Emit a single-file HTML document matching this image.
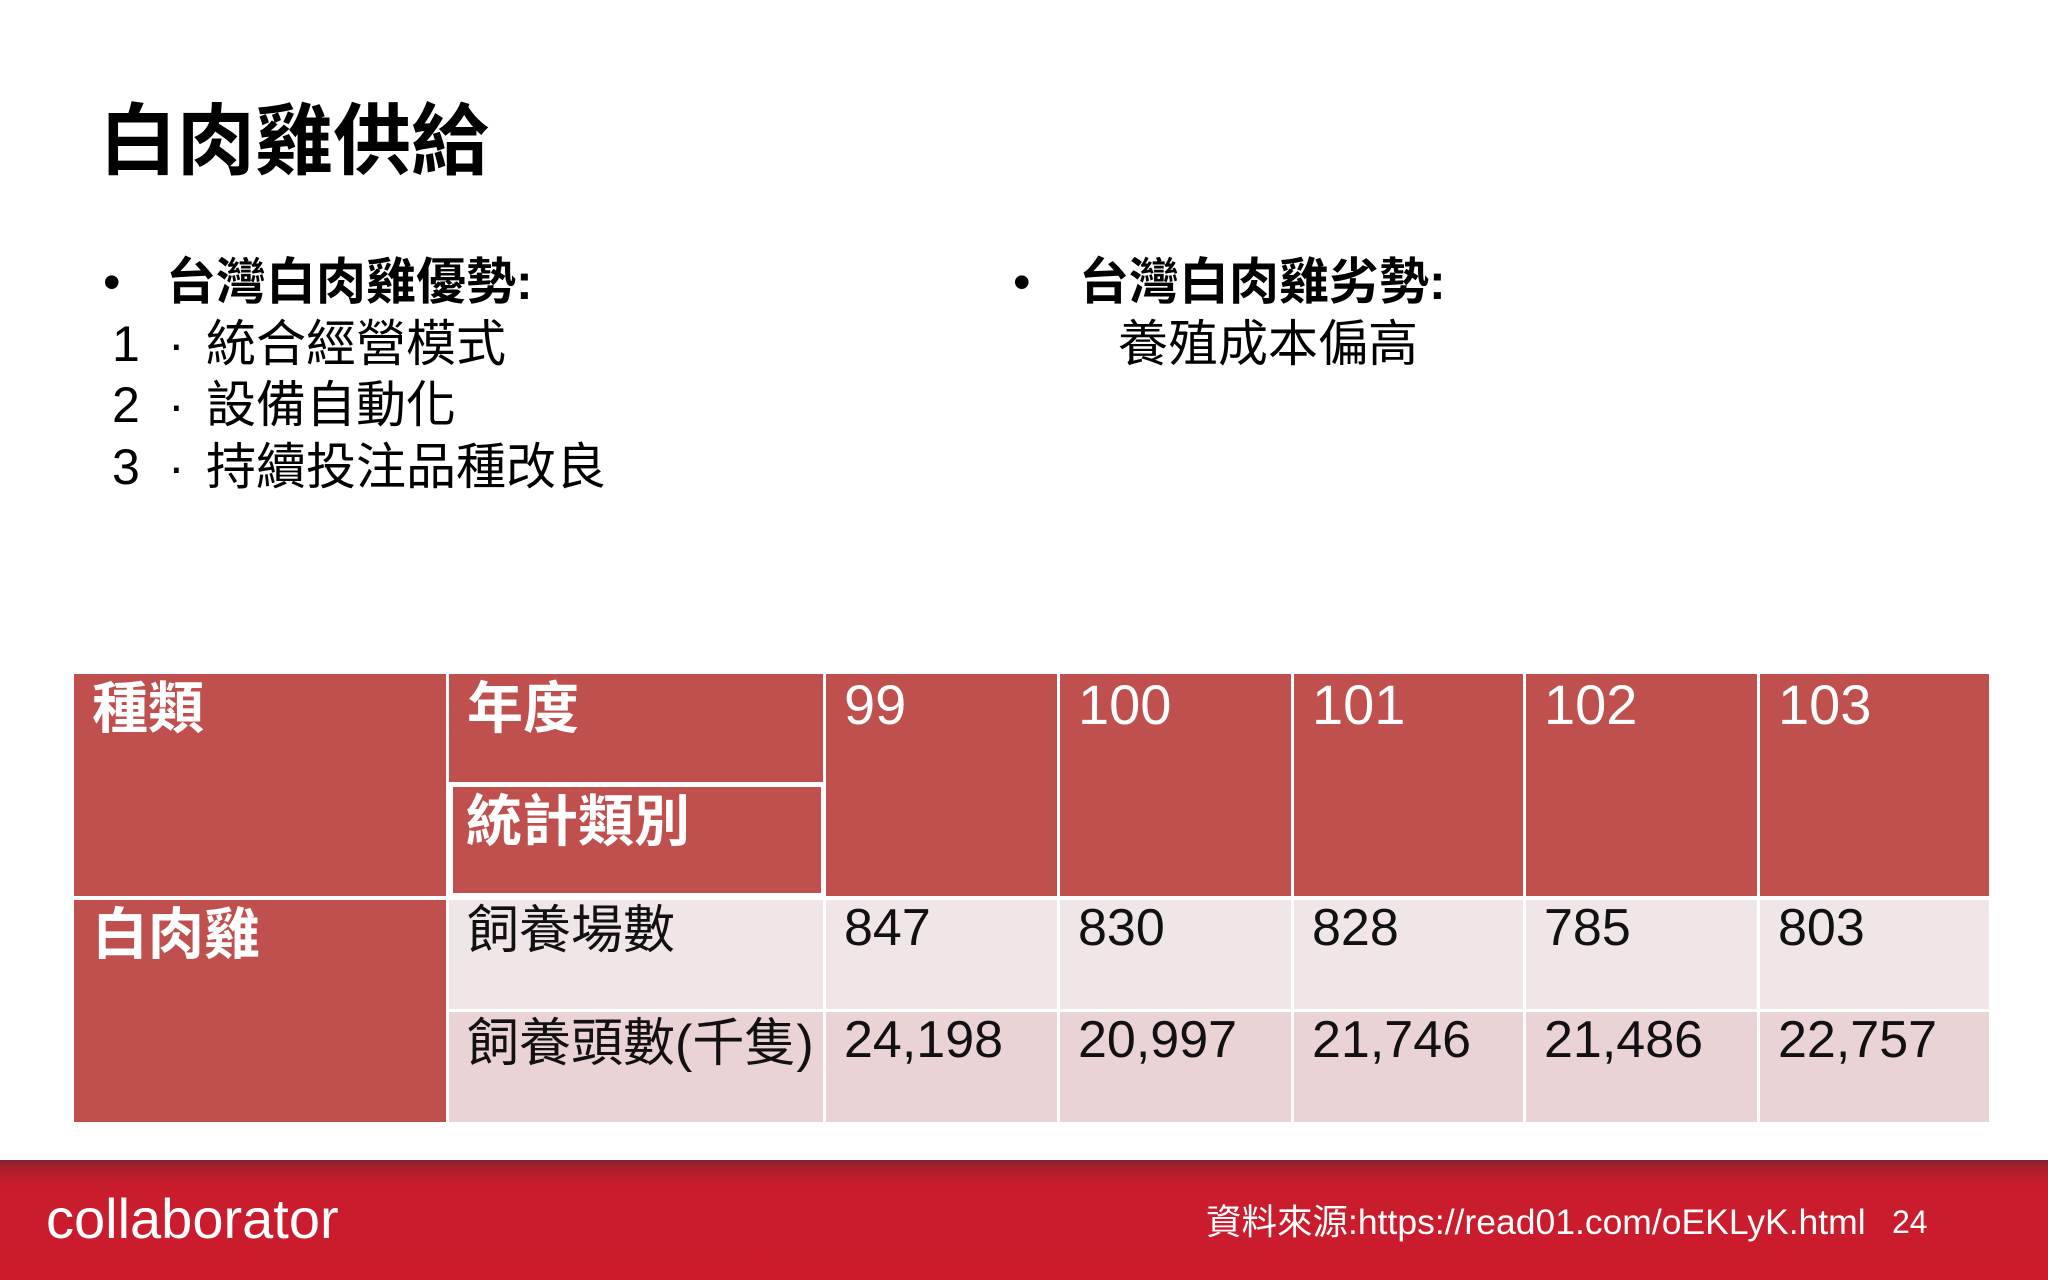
<!DOCTYPE html>
<html><head><meta charset="utf-8">
<style>
body{margin:0;width:2048px;height:1280px;background:#fff;position:relative;overflow:hidden;font-family:"Liberation Sans","Noto Sans CJK TC",sans-serif;}
.a{position:absolute;white-space:nowrap;}
.cell{position:absolute;box-sizing:border-box;}
.h{background:#C0504D;color:#fff;font-size:56px;}
.r1{background:#F0E6E7;color:#111;font-size:52px;}
.r2{background:#E9D3D5;color:#111;font-size:52px;}
.cell span{position:absolute;left:18px;}
</style></head><body>
<div class="a" style="left:99px;top:96px;font-size:78px;font-weight:bold;line-height:90px;">白肉雞供給</div>

<div class="a" style="left:0;top:0;font-size:50px;line-height:61px;">
<div class="a" style="left:103px;top:252px;">•</div>
<div class="a" style="left:166px;top:252px;font-weight:bold;">台灣白肉雞優勢:</div>
<div class="a" style="left:112px;top:314px;">1</div><div class="a" style="left:168px;top:314px;">·</div><div class="a" style="left:206px;top:314px;">統合經營模式</div>
<div class="a" style="left:112px;top:375px;">2</div><div class="a" style="left:168px;top:375px;">·</div><div class="a" style="left:206px;top:375px;">設備自動化</div>
<div class="a" style="left:112px;top:437px;">3</div><div class="a" style="left:168px;top:437px;">·</div><div class="a" style="left:206px;top:437px;">持續投注品種改良</div>
</div>
<div class="a" style="left:0;top:0;font-size:50px;line-height:61px;">
<div class="a" style="left:1013px;top:252px;">•</div>
<div class="a" style="left:1079px;top:252px;font-weight:bold;">台灣白肉雞劣勢:</div>
<div class="a" style="left:1118px;top:314px;">養殖成本偏高</div>
</div>

<div>
<div class="cell h" style="left:74px;top:674px;width:372px;height:222px;"><span style="top:-10px;font-weight:bold;">種類</span></div>
<div class="cell h" style="left:449px;top:674px;width:374px;height:222px;"><span style="top:-10px;font-weight:bold;">年度</span></div>
<div class="cell" style="left:448px;top:782px;width:378px;height:116px;border:5px solid #fff;background:#C0504D;color:#fff;font-size:56px;font-weight:bold;"><span style="left:13px;top:-10px;">統計類別</span></div>
<div class="cell h" style="left:826px;top:674px;width:231px;height:222px;"><span style="top:-2px;">99</span></div>
<div class="cell h" style="left:1060px;top:674px;width:231px;height:222px;"><span style="top:-2px;">100</span></div>
<div class="cell h" style="left:1294px;top:674px;width:229px;height:222px;"><span style="top:-2px;">101</span></div>
<div class="cell h" style="left:1526px;top:674px;width:231px;height:222px;"><span style="top:-2px;">102</span></div>
<div class="cell h" style="left:1760px;top:674px;width:229px;height:222px;"><span style="top:-2px;">103</span></div>

<div class="cell h" style="left:74px;top:900px;width:372px;height:222px;"><span style="top:-10px;font-weight:bold;">白肉雞</span></div>
<div class="cell r1" style="left:449px;top:900px;width:374px;height:109px;"><span style="top:-12px;">飼養場數</span></div>
<div class="cell r1" style="left:826px;top:900px;width:231px;height:109px;"><span style="top:-2px;">847</span></div>
<div class="cell r1" style="left:1060px;top:900px;width:231px;height:109px;"><span style="top:-2px;">830</span></div>
<div class="cell r1" style="left:1294px;top:900px;width:229px;height:109px;"><span style="top:-2px;">828</span></div>
<div class="cell r1" style="left:1526px;top:900px;width:231px;height:109px;"><span style="top:-2px;">785</span></div>
<div class="cell r1" style="left:1760px;top:900px;width:229px;height:109px;"><span style="top:-2px;">803</span></div>

<div class="cell r2" style="left:449px;top:1012px;width:374px;height:110px;"><span style="top:-11px;">飼養頭數(千隻)</span></div>
<div class="cell r2" style="left:826px;top:1012px;width:231px;height:110px;"><span style="top:-2px;">24,198</span></div>
<div class="cell r2" style="left:1060px;top:1012px;width:231px;height:110px;"><span style="top:-2px;">20,997</span></div>
<div class="cell r2" style="left:1294px;top:1012px;width:229px;height:110px;"><span style="top:-2px;">21,746</span></div>
<div class="cell r2" style="left:1526px;top:1012px;width:231px;height:110px;"><span style="top:-2px;">21,486</span></div>
<div class="cell r2" style="left:1760px;top:1012px;width:229px;height:110px;"><span style="top:-2px;">22,757</span></div>
</div>

<div class="a" style="left:0;top:1160px;width:2048px;height:120px;background:linear-gradient(#7a2330 0px,#a51f2c 6px,#c81c2c 22px,#cc1c2c 100%);"></div>
<div class="a" style="left:46px;top:1186px;font-size:56px;color:#fff;letter-spacing:0px;">collaborator</div>
<div class="a" style="left:1206px;top:1194px;font-size:35.5px;color:#fff;">資料來源:https://read01.com/oEKLyK.html</div>
<div class="a" style="left:1892px;top:1204px;font-size:32px;color:#fff;">24</div>
</body></html>
